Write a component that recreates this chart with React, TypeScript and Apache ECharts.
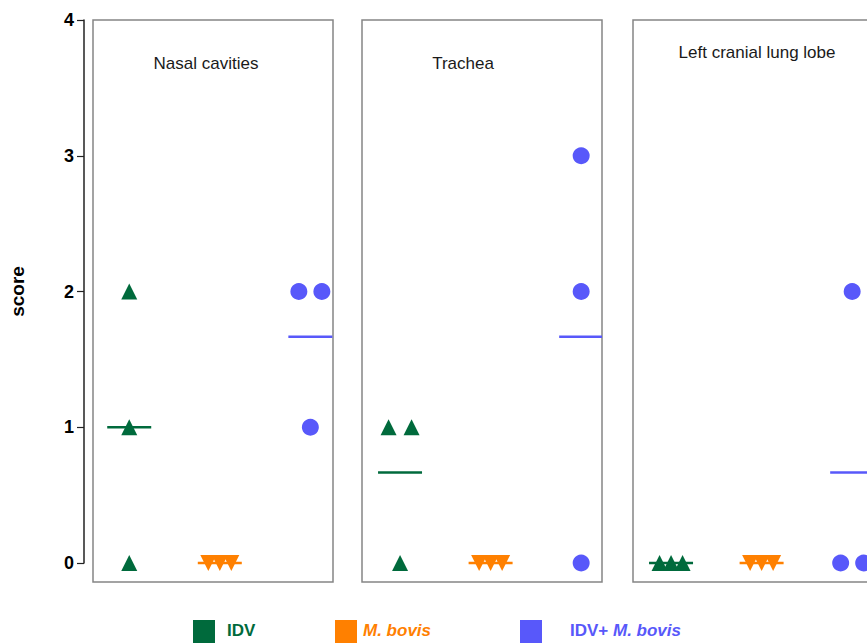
import React, { useEffect, useRef } from "react";
import * as echarts from "echarts";

const panelTitles = ["Nasal cavities", "Trachea", "Left cranial lung lobe"];
const groupNames = ["IDV", "M. bovis", "IDV+ M. bovis"];
const idvScores = [
  [2, 1, 0],
  [1, 1, 0],
  [0, 0, 0],
];
const mbovisScores = [
  [0, 0, 0],
  [0, 0, 0],
  [0, 0, 0],
];
const comboScores = [
  [2, 2, 1],
  [3, 2, 0],
  [2, 0, 0],
];
const yTicks = [0, 1, 2, 3, 4];

const GREEN = "#006A3C";
const ORANGE = "#FF8000";
const BLUE = "#5858FA";
const FONT = "'Liberation Sans', Arial, sans-serif";

const groupColors = [GREEN, ORANGE, BLUE];
const groupSymbols = ["triangle", "triangle", "circle"];
const groupRotate = [0, 180, 0];
const groupSizes = [16, 16, 17];

const panelLeft = [93, 362, 633];
const panelXMin = [0.6, 0.58, 0.58];
const panelTitleX = [206, 463, 757];
const panelTitleY = [63, 63, 52];
const PANEL_W = 240;
const X_SPAN = 2.65;
const STEP = 0.127;

function jitter(values: number[], center: number): number[][] {
  const counts: Record<number, number> = {};
  values.forEach((v) => (counts[v] = (counts[v] || 0) + 1));
  const used: Record<number, number> = {};
  const patterns: Record<number, number[]> = { 1: [0], 2: [-1, 1], 3: [-1, 0, 1] };
  return values.map((v) => {
    const n = counts[v];
    const k = used[v] || 0;
    used[v] = k + 1;
    const pat = patterns[n] || [0];
    return [center + pat[k] * STEP, v];
  });
}

export default function App() {
  const ref = useRef<HTMLDivElement>(null);
  useEffect(() => {
    if (!ref.current) return;
    const chart = echarts.init(ref.current, null, { renderer: "svg" });
    const grids: any[] = [];
    const xAxes: any[] = [];
    const yAxes: any[] = [];
    const series: any[] = [];
    const graphics: any[] = [];
    const allData = [idvScores, mbovisScores, comboScores];

    panelTitles.forEach((title, i) => {
      grids.push({
        left: panelLeft[i],
        top: 20,
        width: PANEL_W,
        height: 562,
        show: true,
        borderColor: "#858585",
        borderWidth: 1.5,
        backgroundColor: "transparent",
        containLabel: false,
      });
      xAxes.push({
        type: "value",
        gridIndex: i,
        min: panelXMin[i],
        max: panelXMin[i] + X_SPAN,
        show: false,
      });
      yAxes.push({ type: "value", gridIndex: i, min: -0.14, max: 4, show: false });
      graphics.push({
        type: "text",
        x: panelTitleX[i],
        y: panelTitleY[i],
        style: {
          text: title,
          fill: "#1a1a1a",
          font: `17px ${FONT}`,
          textAlign: "center",
          textVerticalAlign: "middle",
        },
      });
      groupNames.forEach((g, gi) => {
        const vals = allData[gi][i];
        const center = gi + 1;
        series.push({
          type: "scatter",
          name: g,
          xAxisIndex: i,
          yAxisIndex: i,
          symbol: groupSymbols[gi],
          symbolSize: groupSizes[gi],
          symbolRotate: groupRotate[gi],
          itemStyle: { color: groupColors[gi], opacity: 1 },
          data: jitter(vals, center),
          z: 3,
          silent: true,
        });
        const mean = vals.reduce((a, b) => a + b, 0) / vals.length;
        series.push({
          type: "custom",
          xAxisIndex: i,
          yAxisIndex: i,
          clip: true,
          z: 4,
          silent: true,
          data: [[center, mean]],
          renderItem: (params: any, api: any) => {
            const p = api.coord([api.value(0), api.value(1)]);
            return {
              type: "line",
              shape: { x1: p[0] - 22, y1: p[1], x2: p[0] + 22, y2: p[1] },
              style: { stroke: groupColors[gi], lineWidth: 2.4 },
            };
          },
        });
      });
    });

    // y axis
    grids.push({ left: 84, top: 20, width: 1, height: 543, show: false });
    xAxes.push({ type: "value", gridIndex: 3, show: false, min: 0, max: 1 });
    yAxes.push({
      type: "value",
      gridIndex: 3,
      min: yTicks[0],
      max: yTicks[yTicks.length - 1],
      interval: 1,
      position: "left",
      name: "score",
      nameLocation: "middle",
      nameGap: 57,
      nameRotate: 90,
      nameTextStyle: { color: "#000", fontWeight: "bold", fontSize: 19, fontFamily: FONT },
      axisLine: { show: true, lineStyle: { color: "#222", width: 1.5 } },
      axisTick: { show: true, length: 7, inside: false, lineStyle: { color: "#222", width: 1.2 } },
      axisLabel: {
        color: "#000",
        fontWeight: "bold",
        fontSize: 18,
        fontFamily: FONT,
        margin: 10,
        formatter: (v: number) => (yTicks.includes(v) ? String(v) : ""),
      },
      splitLine: { show: false },
    });

    // legend
    const legX = [193, 335, 520];
    const legTextX = [227, 363, 570];
    groupNames.forEach((g, gi) => {
      graphics.push({
        type: "rect",
        shape: { x: legX[gi], y: 620, width: 22, height: 24 },
        style: { fill: groupColors[gi] },
      });
      let text: string;
      if (g === "IDV") text = `{n|${g}}`;
      else if (g.startsWith("IDV+")) text = `{n|IDV+ }{i|${g.replace("IDV+ ", "")}}`;
      else text = `{i|${g}}`;
      graphics.push({
        type: "text",
        x: legTextX[gi],
        y: 630,
        style: {
          text,
          textVerticalAlign: "middle",
          rich: {
            n: { fontWeight: "bold", fontSize: 17, fontFamily: FONT, fill: groupColors[gi], color: groupColors[gi] },
            i: {
              fontWeight: "bold",
              fontStyle: "italic",
              fontSize: 17,
              fontFamily: FONT,
              fill: groupColors[gi],
              color: groupColors[gi],
            },
          },
        },
      });
    });

    chart.setOption({
      animation: false,
      backgroundColor: "#fff",
      grid: grids,
      xAxis: xAxes,
      yAxis: yAxes,
      series,
      graphic: graphics,
    });
    return () => chart.dispose();
  }, []);
  return (
    <div
      style={{
        position: "absolute",
        left: 0,
        top: 0,
        width: 867,
        height: 643,
        overflow: "hidden",
        background: "#fff",
      }}
    >
      <div ref={ref} style={{ width: 900, height: 643 }} />
    </div>
  );
}
